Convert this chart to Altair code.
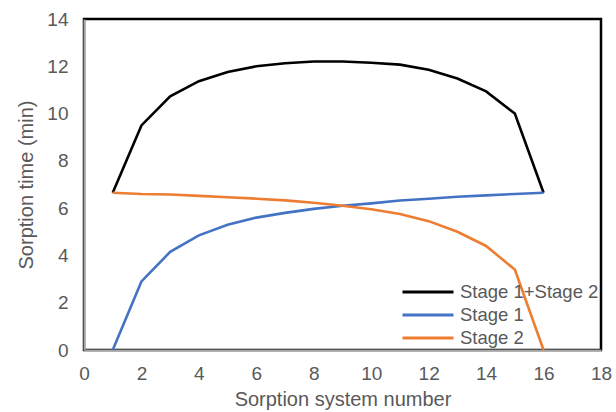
import altair as alt
import pandas as pd

# Sorption system numbers and the sorption time of each stage (min)
system_no = list(range(1, 17))
stage1 = [0.0, 2.9, 4.15, 4.85, 5.3, 5.6, 5.8, 5.97, 6.1, 6.2, 6.32, 6.4, 6.48, 6.54, 6.6, 6.65]
stage2 = [6.65, 6.6, 6.58, 6.52, 6.46, 6.4, 6.33, 6.23, 6.1, 5.95, 5.75, 5.45, 5.0, 4.4, 3.4, 0.0]
total = [a + b for a, b in zip(stage1, stage2)]

series_names = ["Stage 1+Stage 2", "Stage 1", "Stage 2"]
series_colors = ["#000000", "#4472C4", "#ED7D31"]

rows = []
for name, vals in zip(series_names, [total, stage1, stage2]):
    for n, v in zip(system_no, vals):
        rows.append({"system": n, "time": v, "series": name})
df = pd.DataFrame(rows)

font = "Liberation Sans"
gray = "#595959"

chart = (
    alt.Chart(df)
    .mark_line(strokeWidth=2.6)
    .encode(
        x=alt.X(
            "system:Q",
            title="Sorption system number",
            scale=alt.Scale(domain=[0, 18], nice=False),
            axis=alt.Axis(values=list(range(0, 19, 2)), grid=False, tickSize=0,
                          labelFlush=False, labelPadding=14, titlePadding=6),
        ),
        y=alt.Y(
            "time:Q",
            title="Sorption time (min)",
            scale=alt.Scale(domain=[0, 14], nice=False),
            axis=alt.Axis(values=list(range(0, 15, 2)), grid=False, tickSize=0,
                          labelFlush=False, labelPadding=16, titlePadding=10),
        ),
        color=alt.Color(
            "series:N",
            scale=alt.Scale(domain=series_names, range=series_colors),
            legend=alt.Legend(
                title=None, orient="none", legendX=334, legendY=263,
                # long horizontal stroke as the legend symbol
                symbolType="M-3,0H3", symbolSize=289, symbolStrokeWidth=3,
                symbolFillColor="transparent",
                labelFontSize=18.5, labelFont=font, labelColor=gray,
                rowPadding=3, labelOffset=22,
            ),
        ),
        order=alt.Order("system:Q"),
    )
    .properties(width=517, height=331,
                autosize=alt.AutoSizeParams(type="none"),
                padding={"left": 84, "top": 19, "right": 15, "bottom": 62})
    .configure_view(stroke="#000000", strokeWidth=2.5)
    .configure_axis(
        domainColor="#A6A6A6", domainWidth=2,
        labelFont=font, labelFontSize=19, labelColor=gray,
        titleFont=font, titleFontSize=20, titleColor=gray, titleFontWeight="normal",
    )
)

chart.save("out.html", embed_options={"renderer": "svg", "actions": False})
